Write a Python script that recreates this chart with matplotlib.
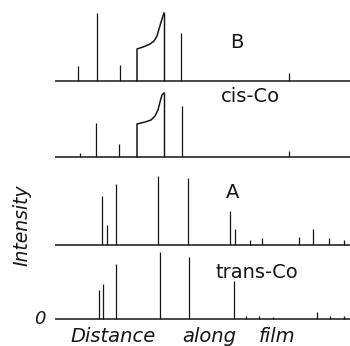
import matplotlib
matplotlib.use('Agg')
import matplotlib.pyplot as plt

plt.rcParams['font.family'] = ['DejaVu Sans']

# peak positions (distance along film, arbitrary units) and intensities
b_pos = [78, 97, 120, 164, 181, 289]
b_int = [15, 68, 16, 68, 48, 8]
b_band_x = [137, 137, 143, 150, 154, 157, 159, 162, 164]
b_band_y = [0, 32, 34, 37, 40, 45, 52, 62, 68]

cis_pos = [80, 96, 119, 164, 182, 289]
cis_int = [4, 34, 13, 64, 51, 6]
cis_band_x = [137, 137, 145, 151, 155, 158, 160, 162, 164]
cis_band_y = [0, 33, 35, 37, 41, 47, 55, 62, 64]

a_pos = [102, 107, 116, 158, 188, 230, 235, 250, 262, 299, 313, 329, 344]
a_int = [49, 20, 61, 69, 67, 34, 16, 5, 7, 8, 16, 7, 5]

trans_pos = [99, 103, 116, 160, 189, 234, 246, 259, 273, 317, 330, 344]
trans_int = [29, 35, 55, 67, 62, 38, 3, 3, 2, 7, 3, 3]

# panel: (positions, intensities, band, label, label x, label y, baseline px)
panels = [
    (b_pos, b_int, (b_band_x, b_band_y), 'B', 237, 39, 81),
    (cis_pos, cis_int, (cis_band_x, cis_band_y), 'cis-Co', 250, 61, 157),
    (a_pos, a_int, None, 'A', 233, 53, 245),
    (trans_pos, trans_int, None, 'trans-Co', 257, 47, 319),
]

# x-axis caption, set word by word (the original is widely letter-spaced)
xlabel_words = ['Distance', 'along', 'film']
xlabel_centres = [113, 209, 277]

W, H = 350, 346
fig = plt.figure(figsize=(3.5, 3.46), dpi=100)
ink = '#161616'

for pos, inten, band, label, lx, ly, base in panels:
    ax = fig.add_axes([0, 1 - (base + 3) / H, 1, 78 / H])
    ax.set_xlim(0, W)
    ax.set_ylim(-3, 75)
    ax.axis('off')
    ax.hlines(0, 55, 350, color=ink, lw=1.1)
    ax.vlines(pos, 0, inten, color=ink, lw=0.9)
    if band:
        ax.plot(band[0], band[1], color=ink, lw=1.1)
        ax.vlines(band[0][-1], 0, band[1][-1], color=ink, lw=0.9)
    ax.text(lx, ly, label, ha='center', va='center', fontsize=14, color=ink)
    if label == 'trans-Co':
        ax.text(40, 0, '0', ha='center', va='center', fontsize=13,
                style='italic', color=ink)

fig.text(22 / W, 1 - 225 / H, 'Intensity', rotation=90, ha='center',
         va='center', fontsize=13.5, style='italic', color=ink)
for word, xc in zip(xlabel_words, xlabel_centres):
    fig.text(xc / W, 1 - 337 / H, word, ha='center', va='center',
             fontsize=14, style='italic', color=ink)

fig.savefig('out.png', dpi=100, facecolor='white')
